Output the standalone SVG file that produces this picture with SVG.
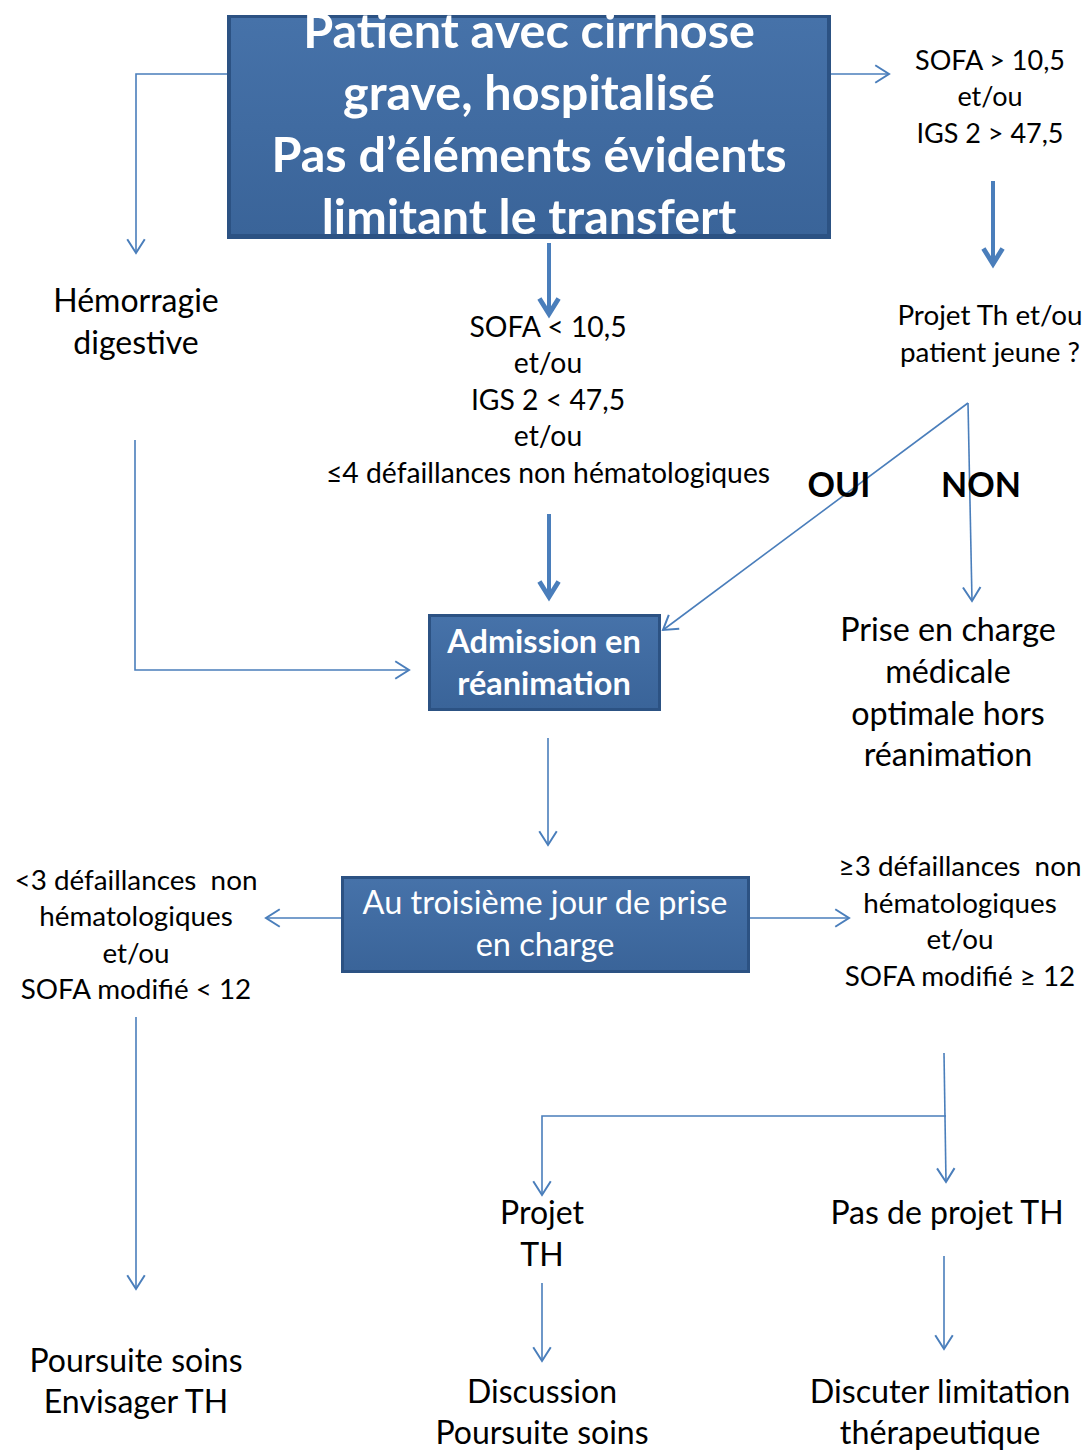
<svg xmlns="http://www.w3.org/2000/svg" width="1085" height="1450" viewBox="0 0 1085 1450">
<style>
.t{font-family:Lato,"Open Sans","Liberation Sans",sans-serif;fill:#000;text-anchor:middle}
.w{font-family:Lato,"Open Sans","Liberation Sans",sans-serif;fill:#fff;text-anchor:middle}
.b{font-weight:bold}
.c{fill:none;stroke:#4a7ebb;stroke-width:1.6}
.k{fill:none;stroke:#4a7ebb;stroke-width:4}
.outer{fill:#2c5283}
</style>
<defs>
<marker id="ah" markerUnits="userSpaceOnUse" markerWidth="20" markerHeight="20" refX="12" refY="8" orient="auto" viewBox="0 0 14 16">
<path d="M1,1 L12,8 L1,15" fill="none" stroke="#4a7ebb" stroke-width="1.6"/>
</marker>
<marker id="ahk" markerUnits="userSpaceOnUse" markerWidth="24" markerHeight="24" refX="15" refY="10" orient="auto" viewBox="0 0 18 20">
<path d="M2,2 L15,10 L2,18" fill="none" stroke="#4a7ebb" stroke-width="4"/>
</marker>
<linearGradient id="bev" x1="0" y1="0" x2="0" y2="1">
<stop offset="0" stop-color="#4672a9"/>
<stop offset="1" stop-color="#3a6499"/>
</linearGradient>
</defs>

<g id="connectors">
<polyline class="c" points="227,74 136,74 136,253" marker-end="url(#ah)"/>
<line class="c" x1="831" y1="74" x2="889" y2="74" marker-end="url(#ah)"/>
<line class="c" x1="548" y1="122" x2="548" y2="180" opacity="0.6" marker-end="url(#ah)"/>
<line class="k" x1="549" y1="243" x2="549" y2="314" marker-end="url(#ahk)"/>
<line class="k" x1="993" y1="181" x2="993" y2="264" marker-end="url(#ahk)"/>
<line class="k" x1="549" y1="514" x2="549" y2="597" marker-end="url(#ahk)"/>
<polyline class="c" points="135,440 135,670 409,670" marker-end="url(#ah)"/>
<line class="c" x1="968" y1="403" x2="663" y2="630" marker-end="url(#ah)"/>
<line class="c" x1="968" y1="403" x2="972" y2="601" marker-end="url(#ah)"/>
<line class="c" x1="548" y1="738" x2="548" y2="845" marker-end="url(#ah)"/>
<line class="c" x1="341" y1="918" x2="266" y2="918" marker-end="url(#ah)"/>
<line class="c" x1="750" y1="918" x2="849" y2="918" marker-end="url(#ah)"/>
<line class="c" x1="136" y1="1017" x2="136" y2="1289" marker-end="url(#ah)"/>
<line class="c" x1="944" y1="1053" x2="946" y2="1182" marker-end="url(#ah)"/>
<polyline class="c" points="946,1116 542,1116 542,1195" marker-end="url(#ah)"/>
<line class="c" x1="542" y1="1283" x2="542" y2="1361" marker-end="url(#ah)"/>
<line class="c" x1="944" y1="1256" x2="944" y2="1349" marker-end="url(#ah)"/>
</g>

<g id="n-patient">
<rect class="outer" x="227" y="15" width="604" height="224"/>
<rect x="231" y="18" width="596" height="216" fill="url(#bev)"/>
<text class="w b" font-size="48.5"><tspan x="529" y="48">Patient avec cirrhose</tspan><tspan x="529" y="110">grave, hospitalisé</tspan><tspan x="529" y="172">Pas d’éléments évidents</tspan><tspan x="529" y="234">limitant le transfert</tspan></text>
</g>

<g id="n-hemorragie">
<text class="t" font-size="32"><tspan x="136" y="312">Hémorragie</tspan><tspan x="136" y="354">digestive</tspan></text>
</g>

<g id="n-sofa-low">
<text class="t" font-size="28.3"><tspan x="548" y="337">SOFA &lt; 10,5</tspan><tspan x="548" y="373">et/ou</tspan><tspan x="548" y="410">IGS 2 &lt; 47,5</tspan><tspan x="548" y="446">et/ou</tspan><tspan x="548" y="483">≤4 défaillances non hématologiques</tspan></text>
</g>

<g id="n-sofa-high">
<text class="t" font-size="27"><tspan x="990" y="70">SOFA &gt; 10,5</tspan><tspan x="990" y="106">et/ou</tspan><tspan x="990" y="143">IGS 2 &gt; 47,5</tspan></text>
</g>

<g id="n-projet-th">
<text class="t" font-size="27.8"><tspan x="990" y="325">Projet Th et/ou</tspan><tspan x="990" y="362">patient jeune ?</tspan></text>
</g>

<g id="labels">
<text class="t b" x="839" y="497" font-size="34">OUI</text>
<text class="t b" x="981" y="497" font-size="34">NON</text>
</g>

<g id="n-admission">
<rect class="outer" x="428" y="614" width="233" height="97"/>
<rect x="431" y="617" width="227" height="91" fill="url(#bev)"/>
<text class="w b" font-size="32.5"><tspan x="544" y="653">Admission en</tspan><tspan x="544" y="695">réanimation</tspan></text>
</g>

<g id="n-prise-en-charge">
<text class="t" font-size="32.3"><tspan x="948" y="641">Prise en charge</tspan><tspan x="948" y="683">médicale</tspan><tspan x="948" y="725">optimale hors</tspan><tspan x="948" y="766">réanimation</tspan></text>
</g>

<g id="n-troisieme-jour">
<rect class="outer" x="341" y="876" width="409" height="97"/>
<rect x="344" y="879" width="403" height="91" fill="url(#bev)"/>
<text class="w" font-size="32.5"><tspan x="545" y="914">Au troisième jour de prise</tspan><tspan x="545" y="956">en charge</tspan></text>
</g>

<g id="n-moins3">
<text class="t" font-size="27.8"><tspan x="136" y="890">&lt;3 défaillances&#160; non</tspan><tspan x="136" y="926">hématologiques</tspan><tspan x="136" y="963">et/ou</tspan><tspan x="136" y="999">SOFA modifié &lt; 12</tspan></text>
</g>

<g id="n-plus3">
<text class="t" font-size="27.8"><tspan x="960" y="876">≥3 défaillances&#160; non</tspan><tspan x="960" y="913">hématologiques</tspan><tspan x="960" y="949">et/ou</tspan><tspan x="960" y="986">SOFA modifié ≥ 12</tspan></text>
</g>

<g id="n-poursuite">
<text class="t" font-size="32"><tspan x="136" y="1372">Poursuite soins</tspan><tspan x="136" y="1413">Envisager TH</tspan></text>
</g>

<g id="n-projet">
<text class="t" font-size="32"><tspan x="542" y="1224">Projet</tspan><tspan x="542" y="1266">TH</tspan></text>
</g>

<g id="n-pas-projet">
<text class="t" font-size="32"><tspan x="947" y="1224">Pas de projet TH</tspan></text>
</g>

<g id="n-discussion">
<text class="t" font-size="32"><tspan x="542" y="1403">Discussion</tspan><tspan x="542" y="1444">Poursuite soins</tspan></text>
</g>

<g id="n-discuter">
<text class="t" font-size="32.3"><tspan x="940" y="1403">Discuter limitation</tspan><tspan x="940" y="1444">thérapeutique</tspan></text>
</g>
</svg>
